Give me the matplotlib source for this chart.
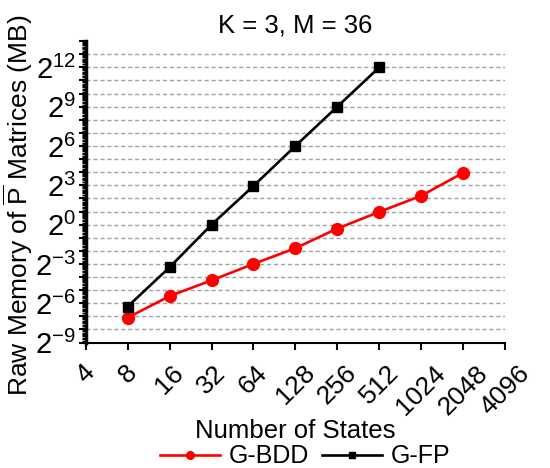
import matplotlib
matplotlib.use("Agg")
from matplotlib import pyplot as plt
from matplotlib.ticker import FixedLocator, FuncFormatter
import numpy as np

plt.rcParams["font.family"] = ["Liberation Sans", "DejaVu Sans"]
plt.rcParams["mathtext.fontset"] = "custom"
plt.rcParams["mathtext.rm"] = "Liberation Sans"
plt.rcParams["mathtext.it"] = "Liberation Sans:italic"

# data (exponents of 2)
states = [8, 16, 32, 64, 128, 256, 512, 1024, 2048]
bdd_exp = [-7.1, -5.45, -4.25, -3.0, -1.8, -0.3, 0.97, 2.2, 3.95]
fp_states = [8, 16, 32, 64, 128, 256, 512]
fp_exp = [-6.25, -3.25, 0.0, 2.95, 6.0, 9.0, 12.0]

x_ticks = [4, 8, 16, 32, 64, 128, 256, 512, 1024, 2048, 4096]

bdd = [2.0 ** e for e in bdd_exp]
fp = [2.0 ** e for e in fp_exp]


def ylab(v, pos):
    p = int(round(np.log2(v)))
    if p % 3 == 0 and p < 14:
        return r"$\mathregular{2^{%d}}$" % p
    return ""


fig = plt.figure(figsize=(5.5, 4.68), dpi=100)
ax = fig.add_axes([0.156, 0.268, 0.762, 0.644])

ax.set_xscale("log", base=2)
ax.set_yscale("log", base=2)
ax.set_xlim(4, 4096)
ax.set_ylim(2.0 ** -9, 2.0 ** 14)

# grid lines at every power of 2
for p in range(-8, 14):
    ax.axhline(2.0 ** p, color="#a0a0a0", lw=1.0, ls=(0, (3, 2)), zorder=0)

ax.plot(states, bdd, color="red", lw=1.9, marker="o", ms=8.5, label="G-BDD", zorder=3)
ax.plot(fp_states, fp, color="black", lw=1.9, marker="s", ms=7.5, label="G-FP", zorder=3)

ax.xaxis.set_major_locator(FixedLocator(x_ticks))
ax.xaxis.set_minor_locator(FixedLocator([]))
ax.set_xticklabels([str(v) for v in x_ticks], rotation=45, fontsize=19)

ax.yaxis.set_major_locator(FixedLocator([2.0 ** p for p in range(-9, 15)]))
ax.yaxis.set_major_formatter(FuncFormatter(ylab))
ax.yaxis.set_minor_locator(FixedLocator([2.0 ** p * s for p in range(-9, 14) for s in np.arange(1.1, 2.0, 0.1)]))
ax.yaxis.set_minor_formatter(FuncFormatter(lambda v, pos: ""))
ax.tick_params(axis="y", which="major", labelsize=21, length=5, width=1.5, pad=2)
ax.tick_params(axis="y", which="minor", length=3, width=1.0)
ax.tick_params(axis="x", which="major", length=5, width=1.5, pad=8)

for s in ["top", "right"]:
    ax.spines[s].set_visible(False)
ax.spines["left"].set_linewidth(2.5)
ax.spines["bottom"].set_linewidth(1.5)

ax.set_title("K = 3, M = 36", fontsize=18.5, pad=6)
ax.set_xlabel("Number of States", fontsize=18.5, labelpad=0)
ax.set_ylabel(r"Raw Memory of $\overline{\mathregular{P}}$ Matrices (MB)", fontsize=19)
ax.yaxis.set_label_coords(-0.122, 0.455)

fig.legend(loc="center", bbox_to_anchor=(0.555, 0.025), ncol=2, frameon=False,
           fontsize=18, handlelength=2.4, handletextpad=0.35, columnspacing=0.5,
           markerscale=0.65, borderpad=0)

fig.savefig("out.png", dpi=100)
